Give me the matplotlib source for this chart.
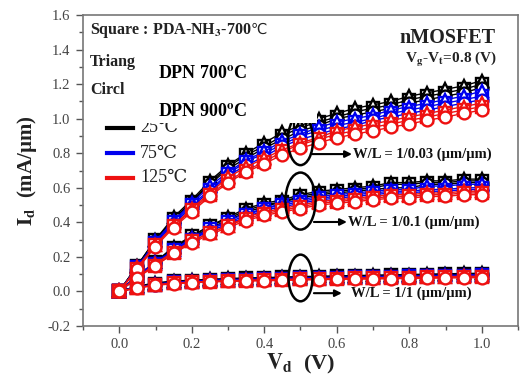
import matplotlib
matplotlib.use('Agg')
import matplotlib.pyplot as plt
from matplotlib.patches import Ellipse, Rectangle
from matplotlib.ticker import MultipleLocator

plt.rcParams['font.family'] = ['Liberation Serif', 'DejaVu Serif']
plt.rcParams['mathtext.fontset'] = 'stix'

vd = [0.00, 0.05, 0.10, 0.15, 0.20, 0.25, 0.30, 0.35, 0.40, 0.45, 0.50,
      0.55, 0.60, 0.65, 0.70, 0.75, 0.80, 0.85, 0.90, 0.95, 1.00]

# W/L = 1/0.03
a_tri25 = [0, .15, .30, .43, .53, .64, .73, .80, .86, .92, .96, 1.00, 1.03, 1.06, 1.08, 1.10, 1.13, 1.15, 1.17, 1.19, 1.22]
a_sq25 = [0, .15, .30, .42, .52, .63, .72, .79, .84, .90, .95, .98, 1.01, 1.04, 1.06, 1.08, 1.11, 1.13, 1.15, 1.17, 1.20]
a_cir25 = [0, .15, .29, .41, .52, .62, .71, .77, .83, .88, .93, .96, 1.00, 1.02, 1.04, 1.06, 1.09, 1.11, 1.13, 1.15, 1.18]
a_tri75 = [0, .14, .29, .41, .51, .61, .69, .76, .81, .87, .91, .95, .98, 1.00, 1.02, 1.05, 1.07, 1.09, 1.11, 1.13, 1.16]
a_sq75 = [0, .14, .28, .40, .50, .59, .68, .75, .80, .85, .90, .93, .96, .98, 1.00, 1.03, 1.05, 1.07, 1.09, 1.11, 1.13]
a_cir75 = [0, .14, .28, .39, .49, .58, .67, .73, .78, .84, .88, .91, .94, .96, .99, 1.01, 1.03, 1.05, 1.07, 1.09, 1.11]
a_tri125 = [0, .14, .27, .38, .48, .57, .66, .72, .77, .82, .86, .89, .93, .95, .97, .99, 1.01, 1.03, 1.05, 1.07, 1.09]
a_sq125 = [0, .13, .27, .38, .47, .56, .64, .70, .75, .81, .85, .88, .91, .93, .95, .97, .99, 1.01, 1.03, 1.05, 1.07]
a_cir125 = [0, .13, .26, .37, .46, .55, .63, .69, .74, .79, .83, .86, .89, .91, .93, .95, .97, .99, 1.01, 1.03, 1.05]

# W/L = 1/0.1
b_tri25 = [0, .09, .17, .26, .32, .38, .43, .48, .51, .53, .56, .58, .59, .60, .61, .63, .63, .64, .64, .65, .65]
b_sq25 = [0, .09, .17, .25, .32, .38, .42, .47, .50, .52, .55, .57, .58, .59, .60, .62, .62, .63, .63, .64, .64]
b_cir25 = [0, .09, .17, .25, .31, .37, .41, .46, .49, .52, .54, .56, .57, .58, .59, .60, .60, .62, .62, .63, .63]
b_tri75 = [0, .09, .17, .24, .31, .36, .41, .45, .48, .51, .53, .55, .56, .57, .58, .59, .59, .61, .61, .62, .62]
b_sq75 = [0, .09, .16, .24, .30, .36, .40, .44, .48, .50, .52, .54, .55, .56, .57, .58, .58, .59, .59, .60, .60]
b_cir75 = [0, .08, .16, .23, .30, .35, .39, .43, .47, .49, .51, .53, .54, .55, .56, .57, .57, .58, .58, .59, .59]
b_tri125 = [0, .08, .16, .23, .29, .34, .38, .43, .46, .48, .50, .52, .53, .54, .55, .56, .56, .57, .57, .58, .58]
b_sq125 = [0, .08, .15, .22, .29, .34, .38, .42, .45, .47, .49, .51, .52, .53, .54, .55, .55, .56, .56, .57, .57]
b_cir125 = [0, .08, .15, .22, .28, .33, .37, .41, .44, .46, .48, .50, .51, .52, .53, .54, .54, .55, .55, .56, .56]

# W/L = 1/1
c_tri25 = [0, .030, .050, .060, .065, .070, .075, .078, .080, .083, .086, .088, .090, .092, .094, .096, .098, .100, .102, .104, .105]
c_sq25 = [0, .030, .045, .058, .063, .068, .072, .075, .078, .081, .083, .085, .087, .089, .091, .093, .095, .097, .099, .100, .102]
c_cir25 = [0, .025, .043, .055, .060, .065, .069, .072, .075, .078, .080, .082, .084, .086, .088, .090, .092, .094, .096, .097, .099]
c_tri75 = [0, .025, .042, .054, .059, .064, .068, .071, .073, .076, .078, .080, .082, .084, .086, .088, .090, .092, .093, .095, .097]
c_sq75 = [0, .024, .040, .052, .057, .062, .066, .069, .071, .074, .076, .078, .080, .082, .084, .086, .088, .089, .091, .092, .094]
c_cir75 = [0, .023, .039, .050, .055, .060, .064, .067, .069, .072, .074, .076, .078, .080, .082, .083, .085, .087, .088, .090, .091]
c_tri125 = [0, .022, .038, .049, .054, .059, .062, .065, .067, .070, .072, .074, .076, .077, .079, .081, .082, .084, .086, .087, .088]
c_sq125 = [0, .021, .037, .047, .052, .057, .060, .063, .065, .067, .070, .071, .073, .075, .076, .078, .080, .081, .083, .084, .085]
c_cir125 = [0, .020, .035, .045, .050, .055, .058, .060, .062, .064, .066, .068, .070, .071, .072, .074, .075, .076, .078, .079, .080]

temps = ['25℃', '75℃', '125℃']
colors = ['#000000', '#0000ee', '#ee1111']
series = {
    '25℃': [(a_sq25, 's'), (b_sq25, 's'), (c_sq25, 's'),
            (a_tri25, '^'), (b_tri25, '^'), (c_tri25, '^'),
            (a_cir25, 'o'), (b_cir25, 'o'), (c_cir25, 'o')],
    '75℃': [(a_sq75, 's'), (b_sq75, 's'), (c_sq75, 's'),
            (a_tri75, '^'), (b_tri75, '^'), (c_tri75, '^'),
            (a_cir75, 'o'), (b_cir75, 'o'), (c_cir75, 'o')],
    '125℃': [(a_sq125, 's'), (b_sq125, 's'), (c_sq125, 's'),
             (a_tri125, '^'), (b_tri125, '^'), (c_tri125, '^'),
             (a_cir125, 'o'), (b_cir125, 'o'), (c_cir125, 'o')],
}

W, H = 524, 380
fig = plt.figure(figsize=(W / 100, H / 100), dpi=100)
ax = fig.add_axes([83 / W, 1 - 326 / H, (518 - 83) / W, (326 - 15) / H])

z = 2
for t, c in zip(temps, colors):
    for ys, m in series[t]:
        ms = 8.5 if m == 'o' else 8
        ax.plot(vd, ys, color=c, lw=1.0, marker=m, ms=ms, mfc='white',
                mec=c, mew=1.7, zorder=z)
        z += 0.01

ax.set_xlim(-0.1, 1.1)
ax.set_ylim(-0.2, 1.6)
ax.xaxis.set_major_locator(MultipleLocator(0.2))
ax.xaxis.set_minor_locator(MultipleLocator(0.1))
ax.yaxis.set_major_locator(MultipleLocator(0.2))
ax.yaxis.set_minor_locator(MultipleLocator(0.1))
ax.xaxis.set_major_formatter(matplotlib.ticker.FormatStrFormatter('%.1f'))
ax.yaxis.set_major_formatter(matplotlib.ticker.FormatStrFormatter('%.1f'))
ax.tick_params(which='major', direction='out', length=5, width=1, color='#555555',
               labelsize=10.5, labelcolor='#444444', pad=4)
ax.tick_params(which='minor', direction='out', length=3, width=1, color='#555555')
for s in ax.spines.values():
    s.set_color('#777777')
    s.set_linewidth(1.2)

ax.set_xlabel('$\\mathbf{V_d}$  (V)', fontsize=16, fontweight='bold', color='#222222', labelpad=0)
ax.set_ylabel('$\\mathbf{I_d}$  (mA/µm)', fontsize=15, fontweight='bold', color='#222222', labelpad=6)

# ellipses and arrows
ells = [(0.5, 0.876, 0.069, 0.29), (0.5, 0.523, 0.083, 0.33), (0.5, 0.078, 0.066, 0.27)]
for (cx, cy, w, h) in ells:
    ax.add_patch(Ellipse((cx, cy), w, h, fill=False, edgecolor='black', lw=1.8, zorder=10))

arrows = [(0.532, 0.642, 0.795, 'W/L = 1/0.03 (µm/µm)', 0.645),
          (0.537, 0.628, 0.402, 'W/L = 1/0.1 (µm/µm)', 0.632),
          (0.537, 0.614, -0.01, 'W/L = 1/1 (µm/µm)', 0.639)]
for x0, x1, y, lab, xl in arrows:
    ax.annotate('', xy=(x1, y), xytext=(x0, y),
                arrowprops=dict(arrowstyle='-|>', color='black', lw=1.5,
                                mutation_scale=10, shrinkA=0, shrinkB=0), zorder=10)
    ax.text(xl, y, lab, fontsize=10.5, fontweight='bold', va='center', ha='left',
            color='#111111', zorder=10)

def px(x, y):
    return x / W, 1 - y / H

# legend-like texts
sq = fig.text(*px(90, 30), 'Square : PDA-NH$_\\mathbf{3}$-700', fontsize=11.5, fontweight='bold',
              va='center', ha='left', color='#222222', zorder=4)
ax.annotate('℃', xy=(1, 0.5), xycoords=sq, xytext=(-0.5, 0.5), textcoords='offset points',
            fontsize=10.5, family='DejaVu Sans', va='center', ha='left', color='#222222',
            annotation_clip=False, zorder=4)
fig.text(*px(90, 62), 'Triang', fontsize=11.5, fontweight='bold',
         va='center', ha='left', color='#222222', zorder=4)
fig.text(*px(90, 90), 'Circl', fontsize=11.5, fontweight='bold',
         va='center', ha='left', color='#222222', zorder=4)

for yy, t, c in zip([128, 153, 178], temps, colors):
    fig.add_artist(plt.Line2D([107 / W, 133 / W], [1 - yy / H, 1 - yy / H], color=c, lw=3, zorder=4))
    fig.text(*px(140, yy), t, fontsize=13, va='center', ha='left', color='#222222', zorder=4)

# white cover box
fig.add_artist(Rectangle(px(128, 123), (317 - 128) / W, (123 - 85) / H, transform=fig.transFigure,
                         facecolor='white', edgecolor='none', zorder=5))
fig.text(*px(158, 73), 'DPN 700$^\\mathbf{o}$C', fontsize=13, fontweight='bold',
         va='center', ha='left', color='black', zorder=6)
fig.text(*px(158, 111), 'DPN 900$^\\mathbf{o}$C', fontsize=13, fontweight='bold',
         va='center', ha='left', color='black', zorder=6)

fig.text(*px(495, 38), 'nMOSFET', fontsize=14.5, fontweight='bold',
         va='center', ha='right', color='#222222', zorder=6)
fig.text(*px(497, 60), 'V$_\\mathbf{g}$-V$_\\mathbf{t}$=0.8 (V)', fontsize=11, fontweight='bold',
         va='center', ha='right', color='#222222', zorder=6)

fig.savefig('out.png', dpi=100)
